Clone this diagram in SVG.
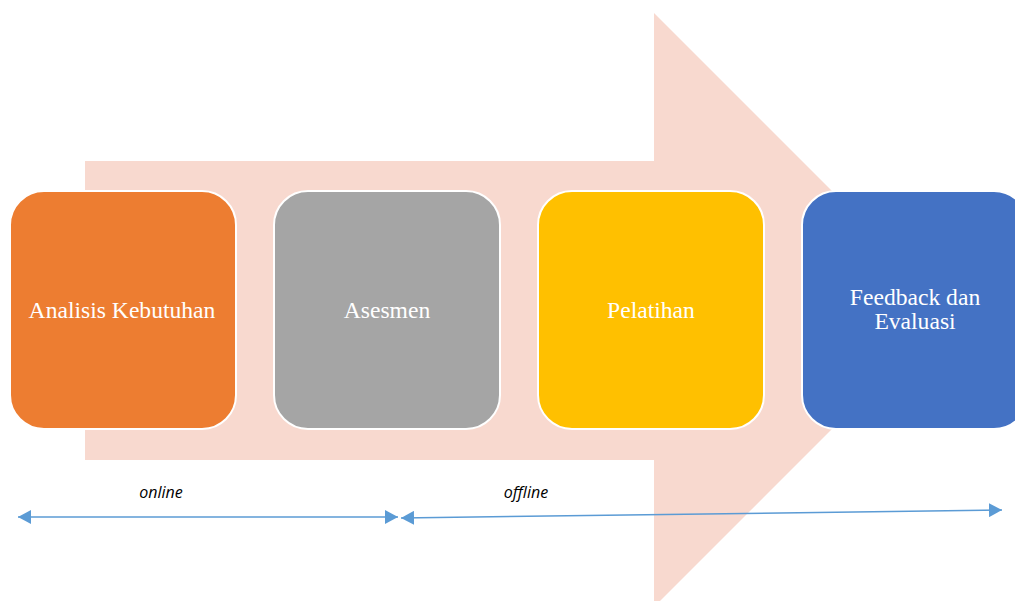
<svg xmlns="http://www.w3.org/2000/svg" width="1015" height="601" viewBox="0 0 1015 601">
<style>
.box{stroke:#ffffff;stroke-width:2}
.lbl{font-family:"Liberation Serif","Times New Roman",serif;font-size:23.6px;fill:#ffffff;text-anchor:middle}
.note{font-family:"Open Sans","Liberation Sans",sans-serif;font-style:italic;font-size:16px;fill:#000000;text-anchor:middle}
.conn{stroke:#5B9BD5;stroke-width:1.5;fill:none}
</style>
<defs>
<marker id="ah" viewBox="0 0 13 14" refX="13" refY="7" markerWidth="13" markerHeight="14" markerUnits="userSpaceOnUse" orient="auto-start-reverse">
<path d="M0,0 L13,7 L0,14 Z" fill="#5B9BD5"/>
</marker>
</defs>
<rect width="1015" height="601" fill="#ffffff"/>
<g id="bigarrow">
<path d="M85,161 H654 V13 L951,310 L654,607 V460 H85 Z" fill="#F8D9CF"/>
</g>
<g id="node-analisis">
<rect class="box" x="10" y="191" width="226" height="238" rx="34" fill="#ED7D31"/>
<text class="lbl" x="122" y="318">Analisis Kebutuhan</text>
</g>
<g id="node-asesmen">
<rect class="box" x="274" y="191" width="226" height="238" rx="34" fill="#A5A5A5"/>
<text class="lbl" x="387" y="318">Asesmen</text>
</g>
<g id="node-pelatihan">
<rect class="box" x="538" y="191" width="226" height="238" rx="34" fill="#FFC000"/>
<text class="lbl" x="651" y="318">Pelatihan</text>
</g>
<g id="node-feedback">
<rect class="box" x="802" y="191" width="226" height="238" rx="34" fill="#4472C4"/>
<text class="lbl" x="915" y="305">Feedback dan</text>
<text class="lbl" x="915" y="329">Evaluasi</text>
</g>
<g id="connectors">
<line class="conn" x1="18" y1="517" x2="398" y2="517" marker-start="url(#ah)" marker-end="url(#ah)"/>
<line class="conn" x1="401" y1="518" x2="1002" y2="510" marker-start="url(#ah)" marker-end="url(#ah)"/>
</g>
<g id="labels">
<text class="note" x="161" y="498">online</text>
<text class="note" x="526" y="498">offline</text>
</g>
</svg>
